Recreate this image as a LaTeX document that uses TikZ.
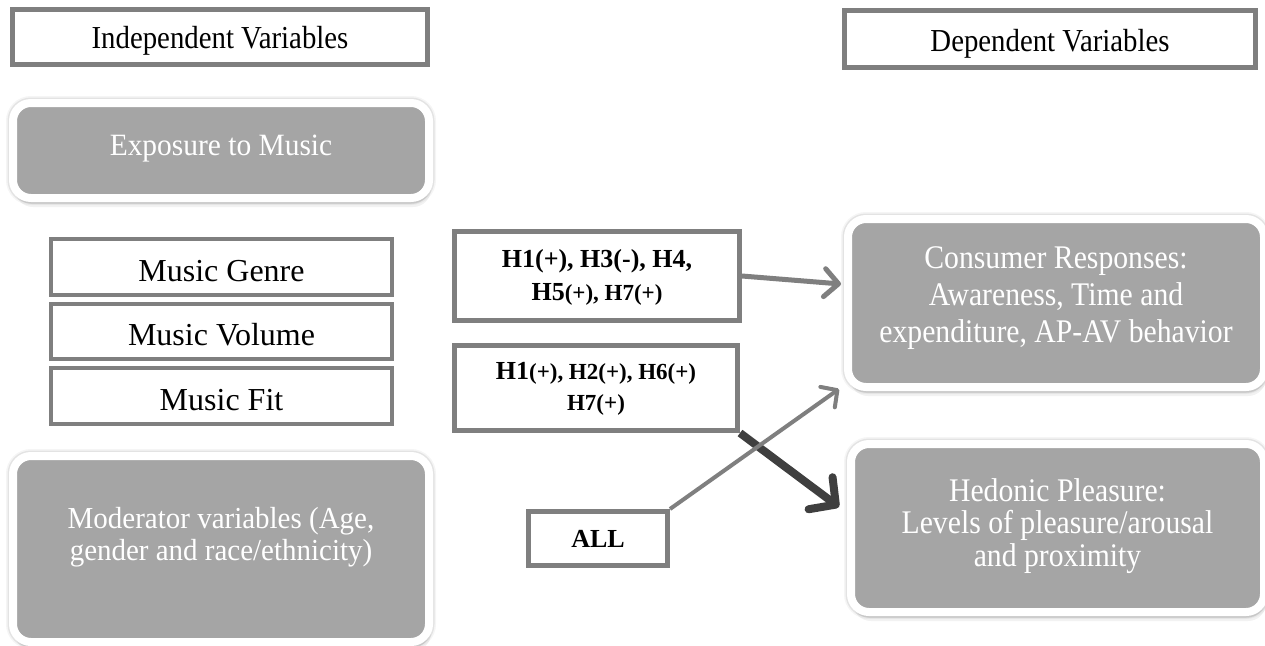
\documentclass[tikz,border=0pt]{standalone}
\usepackage{fontspec}
\setmainfont{Liberation Serif}
\newfontfamily\condA{Liberation Serif}[FakeStretch=0.9]
\newfontfamily\condB{Liberation Serif}[FakeStretch=0.95]
\usetikzlibrary{arrows.meta,shadows,calc}
\definecolor{bordergray}{HTML}{7F7F7F}
\definecolor{fillgray}{HTML}{A5A5A5}
\definecolor{darkarrow}{HTML}{3F3F3F}
\tikzset{
  plainbox/.style={draw=bordergray, line width=5pt, fill=white, inner sep=0pt},
  musicbox/.style={draw=bordergray, line width=4pt, fill=white, inner sep=0pt},
  greybox/.style={draw=white, line width=8pt, fill=fillgray, rounded corners=18pt, inner sep=0pt,
    drop shadow={shadow xshift=1pt, shadow yshift=-6pt, opacity=0.14},
    drop shadow={shadow xshift=2pt, shadow yshift=-9pt, opacity=0.10},
    preaction={draw=black, draw opacity=0.07, line width=11pt},
    preaction={draw=black, draw opacity=0.04, line width=14pt}},
  whitetext/.style={text=white, align=center, inner sep=0pt},
  blacktext/.style={text=black, align=center, inner sep=0pt},
  headfont/.style={font=\condA\fontsize{32}{38}\selectfont},
  musicfont/.style={font=\fontsize{32}{38}\selectfont},
  hypfont/.style={font=\bfseries\fontsize{26}{33}\selectfont},
  arrowA/.style={draw=bordergray, line width=5pt, -{Straight Barb[length=14pt,width=28pt,round]}},
  arrowB/.style={draw=bordergray, line width=4pt, -{Straight Barb[length=12pt,width=25pt,round]}},
  arrowC/.style={draw=darkarrow, line width=8pt, -{Straight Barb[length=19pt,width=40pt,round]}}
}
\newcommand{\hbig}[1]{{\fontsize{26}{33}\selectfont #1}}
\newcommand{\hsmall}[1]{{\fontsize{23}{33}\selectfont #1}}
\begin{document}
\begin{tikzpicture}[x=1pt,y=-1pt]
\fill[white] (0,0) rectangle (1265,645);
\useasboundingbox (0,0) rectangle (1265,645);

% headers
\node[plainbox, minimum width=415pt, minimum height=55pt] (indep) at (220,37) {};
\node[blacktext, headfont, anchor=base] (indepT) at (220,48) {Independent Variables};
\node[plainbox, minimum width=411pt, minimum height=57pt] (dep) at (1050,39) {};
\node[blacktext, headfont, anchor=base] (depT) at (1050,51) {Dependent Variables};

% exposure
\node[greybox, minimum width=416pt, minimum height=95pt] (expo) at (221,150.5) {};
\node[whitetext, anchor=base, font=\condB\fontsize{31}{36}\selectfont] (expoT) at (221,155) {Exposure to Music};

% music boxes
\node[musicbox, minimum width=341pt, minimum height=56pt] (genre) at (221.5,267) {};
\node[blacktext, musicfont, anchor=base] (genreT) at (221.5,281) {Music Genre};
\node[musicbox, minimum width=341pt, minimum height=55pt] (volume) at (221.5,331.5) {};
\node[blacktext, musicfont, anchor=base] (volumeT) at (221.5,345) {Music Volume};
\node[musicbox, minimum width=341pt, minimum height=56pt] (fit) at (221.5,396) {};
\node[blacktext, musicfont, anchor=base] (fitT) at (221.5,410) {Music Fit};

% moderator
\node[greybox, minimum width=416pt, minimum height=186pt] (moder) at (221,549) {};
\node[whitetext, font=\condB\fontsize{30.5}{31.5}\selectfont] (moderT) at (221,537) {Moderator variables (Age,\\gender and race/ethnicity)};

% hypothesis boxes
\node[plainbox, minimum width=285pt, minimum height=89pt] (hbox1) at (597,276) {};
\node[blacktext, hypfont] (hbox1T) at (597,277) {H1(+), H3(-), H4,\\\hbig{H5}\hsmall{(+), H7(+)}};
\node[plainbox, minimum width=283pt, minimum height=85pt] (hbox2) at (596,388) {};
\node[blacktext, font=\bfseries\fontsize{26}{31}\selectfont] (hbox2T) at (596,389) {\hbig{H1}\hsmall{(+), H2(+), H6(+)}\\\hsmall{H7(+)}};
\node[plainbox, minimum width=139pt, minimum height=54pt] (all) at (598,538.5) {};
\node[blacktext, hypfont, anchor=base] (allT) at (598,547) {ALL};

% dependent boxes
\node[greybox, minimum width=416pt, minimum height=168pt] (cons) at (1056,303) {};
\node[whitetext, font=\condA\fontsize{33}{37}\selectfont] (consT) at (1056,298) {Consumer Responses:\\Awareness, Time and\\expenditure, AP-AV behavior};
\node[greybox, minimum width=413pt, minimum height=168pt] (hed) at (1057.5,528) {};
\node[whitetext, font=\condA\fontsize{33}{32.5}\selectfont] (hedT) at (1057.5,526) {Hedonic Pleasure:\\Levels of pleasure/arousal\\and proximity};

% arrows
\draw[arrowA] (hbox1.east) -- ($(cons.west)+(-3,-19)$);
\draw[arrowC] (hbox2.south east) -- ($(hed.west)+(-8,-21)$);
\draw[arrowB] (all.north east) -- ($(cons.south west)+(-5,-2)$);
\end{tikzpicture}
\end{document}
